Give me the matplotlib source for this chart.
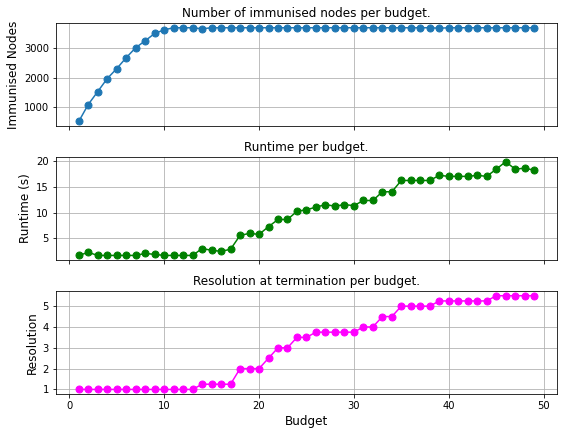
import numpy as np
import matplotlib
matplotlib.use('Agg')
import matplotlib.pyplot as plt

budget = list(range(1, 50))
immunised = [533, 1100, 1533, 1967, 2300, 2667, 3000, 3233, 3478, 3600,
             3670, 3670, 3670, 3635, 3670, 3670, 3670, 3670, 3670, 3670,
             3670, 3670, 3670, 3670, 3670, 3670, 3670, 3670, 3670, 3670,
             3670, 3670, 3670, 3670, 3670, 3670, 3670, 3670, 3655, 3670,
             3670, 3670, 3670, 3670, 3670, 3670, 3670, 3670, 3670]
runtime = [1.7, 2.3, 1.7, 1.7, 1.7, 1.7, 1.7, 2.1, 1.9, 1.7,
           1.7, 1.7, 1.7, 3.05, 2.7, 2.5, 2.9, 5.6, 6.0, 5.8,
           7.3, 8.7, 8.7, 10.3, 10.6, 11.1, 11.6, 11.3, 11.6, 11.4,
           12.4, 12.4, 14.1, 14.1, 16.3, 16.3, 16.3, 16.3, 17.3, 17.1,
           17.1, 17.1, 17.3, 17.1, 18.5, 19.95, 18.5, 18.7, 18.3]
resolution = [1.0] * 13 + [1.25] * 4 + [2.0] * 3 + [2.5, 3.0, 3.0, 3.5, 3.5] \
    + [3.75] * 5 + [4.0, 4.0, 4.5, 4.5] + [5.0] * 4 + [5.25] * 6 + [5.5] * 5

fig, axes = plt.subplots(3, 1, figsize=(562/72, 435/72), dpi=72, sharex=True)

ax = axes[0]
ax.plot(budget, immunised, marker='o', ms=7)
ax.set_title('Number of immunised nodes per budget.', fontsize=12)
ax.set_ylabel('Immunised Nodes', fontsize=12)
ax.grid(True)

ax = axes[1]
ax.plot(budget, runtime, marker='o', ms=7, color='green')
ax.set_title('Runtime per budget.', fontsize=12)
ax.set_ylabel('Runtime (s)', fontsize=12)
ax.grid(True)

ax = axes[2]
ax.plot(budget, resolution, marker='o', ms=7, color='magenta')
ax.set_title('Resolution at termination per budget.', fontsize=12)
ax.set_ylabel('Resolution', fontsize=12)
ax.set_xlabel('Budget', fontsize=12)
ax.grid(True)

fig.subplots_adjust(left=0.0996, right=0.991, top=0.947, bottom=0.094, hspace=0.30)
plt.savefig('out.png', dpi=72)
